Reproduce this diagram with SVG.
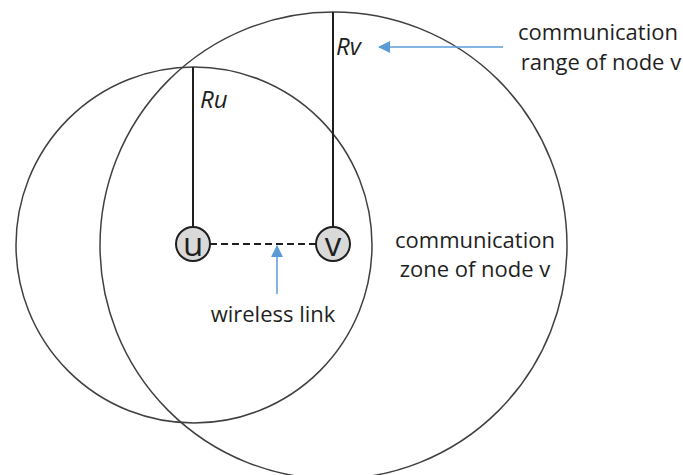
<svg xmlns="http://www.w3.org/2000/svg" width="683" height="475" viewBox="0 0 683 475">
  <defs>
    <marker id="blueHead" viewBox="0 0 12 12" refX="11" refY="6" markerWidth="12" markerHeight="12" markerUnits="userSpaceOnUse" orient="auto">
      <path d="M0,0 L12,6 L0,12 Z" fill="#5b9bd5"/>
    </marker>
    <style>
      .range { fill: none; stroke: #404040; stroke-width: 1.5; }
      .radius { stroke: #1f1f1f; stroke-width: 2; }
      .node circle { fill: #d9d9d9; stroke: #1f1f1f; stroke-width: 2; }
      .node text { font-family: "Open Sans", "Liberation Sans", sans-serif; font-size: 33px; fill: #1f1f1f; text-anchor: middle; }
      .label { font-family: "Open Sans", "Liberation Sans", sans-serif; font-size: 22px; fill: #1f1f1f; }
      .rlabel { font-family: "Open Sans", "Liberation Sans", sans-serif; font-size: 24px; font-style: italic; fill: #1f1f1f; }
      .pointer { stroke: #5b9bd5; stroke-width: 1.5; fill: none; }
      .link { stroke: #1f1f1f; stroke-width: 2; stroke-dasharray: 7 4; }
    </style>
  </defs>
  <rect width="683" height="475" fill="#ffffff"/>

  <!-- communication ranges -->
  <g id="range-u">
    <circle class="range" cx="194" cy="245" r="178"/>
  </g>
  <g id="range-v">
    <circle class="range" cx="333.5" cy="245.5" r="233.5"/>
  </g>

  <!-- connectors: radii, wireless link and pointers -->
  <g id="connectors">
    <line class="radius" x1="193" y1="67" x2="193" y2="227"/>
    <line class="radius" x1="333" y1="12" x2="333" y2="226"/>
    <line class="link" x1="210" y1="244" x2="316" y2="244"/>
    <line class="pointer" x1="277" y1="294" x2="277" y2="246" marker-end="url(#blueHead)"/>
    <line class="pointer" x1="503" y1="47" x2="379" y2="47" marker-end="url(#blueHead)"/>
  </g>

  <!-- nodes -->
  <g id="node-u" class="node">
    <circle cx="193" cy="244" r="17"/>
    <text x="193" y="256">u</text>
  </g>
  <g id="node-v" class="node">
    <circle cx="333" cy="244" r="17"/>
    <text x="333" y="256">v</text>
  </g>

  <!-- labels -->
  <g id="label-ru">
    <text class="rlabel" x="200" y="108">Ru</text>
  </g>
  <g id="label-rv">
    <text class="rlabel" x="336" y="55">Rv</text>
  </g>
  <g id="label-range">
    <text class="label" x="598" y="40" text-anchor="middle">communication</text>
    <text class="label" x="601" y="70" text-anchor="middle">range of node v</text>
  </g>
  <g id="label-zone">
    <text class="label" x="475" y="248" text-anchor="middle">communication</text>
    <text class="label" x="475" y="277" text-anchor="middle">zone of node v</text>
  </g>
  <g id="label-link">
    <text class="label" x="273" y="322" text-anchor="middle">wireless link</text>
  </g>
</svg>
